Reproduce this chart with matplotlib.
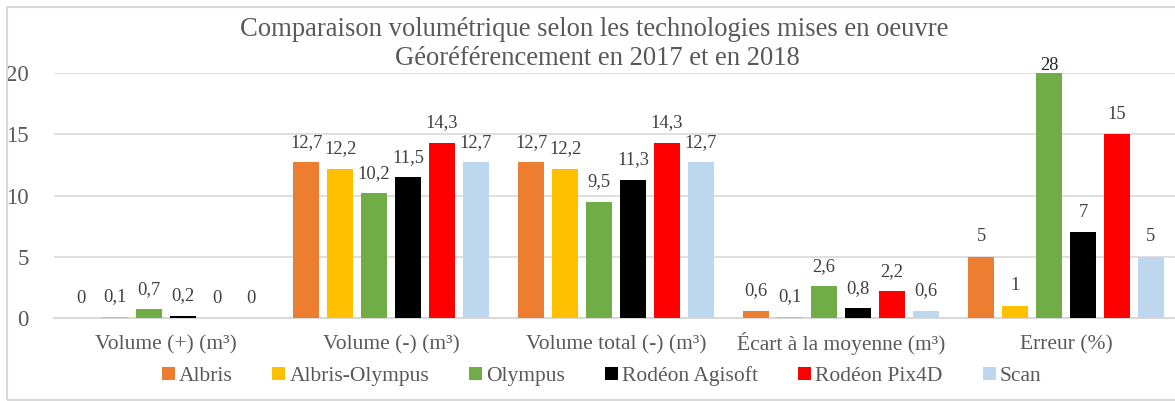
import numpy as np
import matplotlib
matplotlib.use('Agg')
from matplotlib import pyplot as plt
from matplotlib.patches import Rectangle

plt.rcParams['font.family'] = ['Liberation Serif', 'DejaVu Serif']

categories = ['Volume (+) (m³)', 'Volume (-) (m³)', 'Volume total (-) (m³)',
              'Écart à la moyenne (m³)', 'Erreur (%)']
series = ['Albris', 'Albris-Olympus', 'Olympus', 'Rodéon Agisoft', 'Rodéon Pix4D', 'Scan']
albris = [0, 12.7, 12.7, 0.6, 5]
albris_olympus = [0.1, 12.2, 12.2, 0.1, 1]
olympus = [0.7, 10.2, 9.5, 2.6, 28]
agisoft = [0.2, 11.5, 11.3, 0.8, 7]
pix4d = [0, 14.3, 14.3, 2.2, 15]
scan = [0, 12.7, 12.7, 0.6, 5]
values = [albris, albris_olympus, olympus, agisoft, pix4d, scan]
colors = ['#ED7D31', '#FFC000', '#70AD47', '#000000', '#FF0000', '#BDD7EE']
yticks = [0, 5, 10, 15, 20]

gray = '#595959'
ymax = 20

fig = plt.figure(figsize=(11.75, 4.01), dpi=100)
ax = fig.add_axes([53.5/1175, 83/401, 1125/1175, 245/401])

x = np.arange(len(categories))
pitch = 0.151
width = 0.118
for i, (name, vals, col) in enumerate(zip(series, values, colors)):
  pos = x + (i - 2.5) * pitch
  ax.bar(pos, vals, width, color=col, label=name, zorder=3)
  for p, v in zip(pos, vals):
    txt = ('%g' % v).replace('.', ',')
    if v > ymax:
      # bar goes past the axis top, label sits right on the edge
      ax.annotate(txt, (p, ymax), xytext=(0, 2), textcoords='offset points',
                  ha='center', va='baseline', fontsize=13.3, color='#262626',
                  annotation_clip=False)
    else:
      ax.annotate(txt, (p, v), xytext=(0, 11), textcoords='offset points',
                  ha='center', va='baseline', fontsize=13.3, color='#404040')

ax.set_ylim(0, ymax)
ax.set_xlim(-0.5, len(categories) - 0.5)
ax.set_yticks(yticks)
ax.set_xticks(x)
ax.set_xticklabels(categories)
ax.tick_params(axis='both', length=0, colors=gray, labelsize=16.5)
ax.tick_params(axis='x', labelsize=15.5, pad=23)
ax.tick_params(axis='y', pad=18)
for lab in ax.get_xticklabels():
  lab.set_va('baseline')
ax.grid(axis='y', color='#D9D9D9', linewidth=1.2, zorder=0)
for s in ['top', 'right', 'left']:
  ax.spines[s].set_visible(False)
ax.spines['bottom'].set_color('#D9D9D9')
ax.spines['bottom'].set_linewidth(1.5)

fig.text(0.506, 1 - 36/401, 'Comparaison volumétrique selon les technologies mises en oeuvre',
         ha='center', va='baseline', fontsize=19.2, color=gray)
fig.text(0.508, 1 - 65/401, 'Géoréférencement en 2017 et en 2018',
         ha='center', va='baseline', fontsize=19.2, color=gray)

leg = fig.legend(loc='center', bbox_to_anchor=(0.512, 1 - 376/401), ncol=6, frameon=False,
                 fontsize=15.5, handlelength=0.6, handleheight=0.6, handletextpad=0.2,
                 columnspacing=1.85, borderaxespad=0)
for t in leg.get_texts():
  t.set_color(gray)

fig.patches.append(Rectangle((6.5/1175, 1/401), 1.2, 393/401, transform=fig.transFigure,
                             fill=False, edgecolor='#D9D9D9', linewidth=1.5))

plt.savefig('out.png', dpi=100)
